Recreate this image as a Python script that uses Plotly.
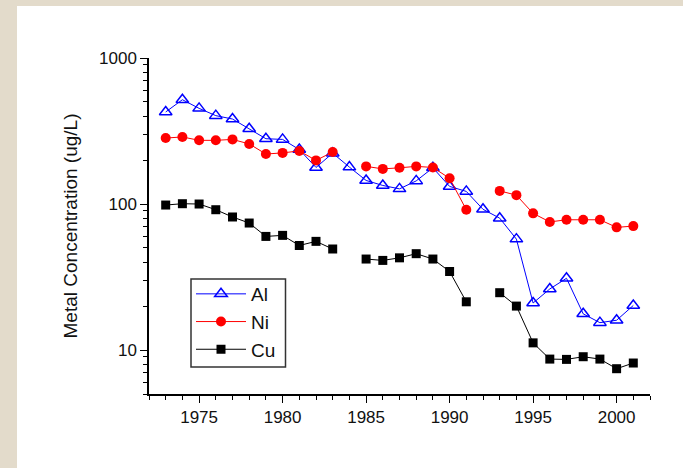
import plotly.graph_objects as go
import math

years = list(range(1973, 2002))

al = [427, 518, 452, 403, 382, 328, 280, 277, 236, 178, 223, 179, 145, 134, 127,
      144, 177, 132, 122, 92, 80, 57.5, 21, 26.2, 31, 17.7, 15.4, 16.0, 20.2]
ni = [283, 288, 273, 273, 277, 258, 220, 224, 231, 199, 227, None, 181, 174, 177,
      181, 178, 150, 91.4, None, 123, 115, 86.3, 75.4, 78, 78, 78, 69.2, 70.6]
cu = [98.4, 100.5, 100, 91.4, 81.5, 74.1, 60, 61, 52, 55.5, 49.2, None, 42, 41.1, 42.8,
      45.7, 42, 34.5, 21.4, None, 24.7, 20, 11.2, 8.67, 8.63, 9.0, 8.67, 7.45, 8.15]

series_names = ["Al", "Ni", "Cu"]
x_ticks = [1975, 1980, 1985, 1990, 1995, 2000]

FONT = "Arial, Liberation Sans, sans-serif"

fig = go.Figure()
fig.add_trace(go.Scatter(
    x=years, y=al, name=series_names[0], mode="lines+markers",
    line=dict(color="#0000FF", width=1),
    marker=dict(symbol="triangle-up-open", size=11, color="#0000FF", line=dict(width=1.5)),
    legendgroup="a"))
fig.add_trace(go.Scatter(
    x=years, y=ni, name=series_names[1], mode="lines+markers", connectgaps=False,
    line=dict(color="#FF0000", width=1),
    marker=dict(symbol="circle", size=10, color="#FF0000"),
    legendgroup="b"))
fig.add_trace(go.Scatter(
    x=years, y=cu, name=series_names[2], mode="lines+markers", connectgaps=False,
    line=dict(color="#000000", width=1),
    marker=dict(symbol="square", size=9, color="#000000"),
    legendgroup="c"))

W, H = 683, 468
L, R, T, B = 149, 33, 58, 74
pw, ph = W - L - R, H - T - B

def px_x(p):
    return (p - L) / pw

def px_y(p):
    return (H - B - p) / ph

# page background panel
fig.add_shape(type="rect", xref="paper", yref="paper", layer="below",
              x0=px_x(17), x1=1.2, y0=-0.4, y1=px_y(6),
              fillcolor="white", line=dict(width=0))
# legend frame
fig.add_shape(type="rect", xref="paper", yref="paper", layer="above",
              x0=px_x(191), x1=px_x(285.5), y0=px_y(367), y1=px_y(279),
              fillcolor="white", line=dict(color="#333333", width=1.5))

fig.update_layout(
    width=W, height=H,
    margin=dict(l=L, r=R, t=T, b=B, pad=0),
    paper_bgcolor="#E3DBCB",
    plot_bgcolor="white",
    font=dict(family=FONT, size=17, color="#111111"),
    showlegend=True,
    legend=dict(x=px_x(191), y=px_y(275), xanchor="left", yanchor="top",
                bgcolor="rgba(0,0,0,0)", borderwidth=0,
                font=dict(size=19, color="#111111"), itemwidth=50,
                traceorder="grouped", tracegroupgap=0),
)
fig.update_xaxes(
    range=[1972, 2002], tickvals=x_ticks, ticks="outside", ticklen=7, tickwidth=1.2,
    tickcolor="black", showline=True, linecolor="black", linewidth=1.5,
    showgrid=False, zeroline=False,
    minor=dict(dtick=1, tick0=1972, ticks="outside", ticklen=4, tickwidth=1.2, tickcolor="black", showgrid=False),
)
fig.update_yaxes(
    type="log", range=[math.log10(5), 3], dtick=1, tickformat="d",
    ticks="outside", ticklen=7, tickwidth=1.2, tickcolor="black",
    showline=True, linecolor="black", linewidth=1.5, showgrid=False, zeroline=False,
    minor=dict(dtick="D1", ticks="outside", ticklen=4, tickwidth=1.2, tickcolor="black", showgrid=False),
    title=dict(text="Metal Concentration (ug/L)", font=dict(size=19), standoff=16),
)

fig.write_html("out.html", config={"displayModeBar": False},
               post_script="document.body.style.margin='0';document.body.style.overflow='hidden';")
